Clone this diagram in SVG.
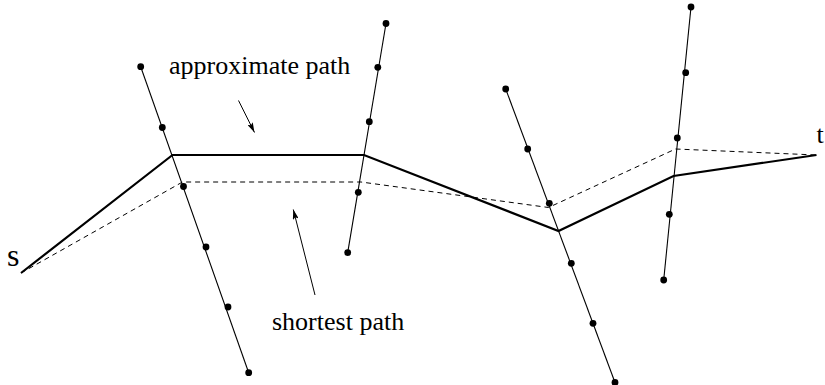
<svg xmlns="http://www.w3.org/2000/svg" width="825" height="385" viewBox="0 0 825 385">
<style>
.seg{stroke:#000;stroke-width:1.1;fill:none}
.dot{fill:#000}
.approx{stroke:#000;stroke-width:2.2;fill:none;stroke-linejoin:miter}
.short{stroke:#000;stroke-width:1;fill:none;stroke-dasharray:5 4}
.lbl{font-family:"Liberation Serif","Times New Roman",serif;font-size:26px;fill:#000}
.big{font-size:32px}
.ptr{stroke:#000;stroke-width:1;fill:none}
</style>
<defs>
<marker id="ah" viewBox="0 0 10 6" refX="10" refY="3" markerWidth="10" markerHeight="6" markerUnits="userSpaceOnUse" orient="auto">
<path d="M0,0 L10,3 L0,6 L2,3 Z" fill="#000"/>
</marker>
</defs>
<rect width="825" height="385" fill="#fff"/>
<g id="edge1">
<line class="seg" x1="140.7" y1="66.7" x2="248.7" y2="372.7"/>
<circle class="dot" cx="140.7" cy="66.7" r="3.4"/>
<circle class="dot" cx="162.3" cy="127.5" r="3.4"/>
<circle class="dot" cx="183.5" cy="186.5" r="3.4"/>
<circle class="dot" cx="206" cy="247" r="3.4"/>
<circle class="dot" cx="228" cy="307" r="3.4"/>
<circle class="dot" cx="248.7" cy="372.7" r="3.4"/>
</g>
<g id="edge2">
<line class="seg" x1="386" y1="23.5" x2="347.7" y2="252.7"/>
<circle class="dot" cx="386" cy="23.5" r="3.4"/>
<circle class="dot" cx="377.8" cy="67.3" r="3.4"/>
<circle class="dot" cx="369.3" cy="121.7" r="3.4"/>
<circle class="dot" cx="358.3" cy="192.3" r="3.4"/>
<circle class="dot" cx="347.7" cy="252.7" r="3.4"/>
</g>
<g id="edge3">
<line class="seg" x1="505.7" y1="89" x2="615" y2="382.5"/>
<circle class="dot" cx="505.7" cy="89" r="3.4"/>
<circle class="dot" cx="527.7" cy="149" r="3.4"/>
<circle class="dot" cx="549.3" cy="203.3" r="3.4"/>
<circle class="dot" cx="571.3" cy="263.3" r="3.4"/>
<circle class="dot" cx="593" cy="323.3" r="3.4"/>
<circle class="dot" cx="615" cy="382.5" r="3.4"/>
</g>
<g id="edge4">
<line class="seg" x1="691" y1="7" x2="663.7" y2="280"/>
<circle class="dot" cx="691" cy="7" r="3.4"/>
<circle class="dot" cx="685.7" cy="72.7" r="3.4"/>
<circle class="dot" cx="677.3" cy="138" r="3.4"/>
<circle class="dot" cx="669.3" cy="214.3" r="3.4"/>
<circle class="dot" cx="663.7" cy="280" r="3.4"/>
</g>
<g id="connectors">
<polyline class="approx" points="21,273 172.5,155 364,155 558.5,231 673.5,176 816.5,155"/>
<polyline class="short" points="21,273 182.5,182 361,182 548.5,207.5 675.5,149 816.5,155"/>
<line class="ptr" x1="238.5" y1="100.5" x2="254.5" y2="132.5" marker-end="url(#ah)"/>
<line class="ptr" x1="315" y1="295" x2="293.3" y2="209.5" marker-end="url(#ah)"/>
</g>
<g id="labels">
<text class="lbl" x="169" y="73.5">approximate path</text>
<text class="lbl" x="272" y="329.5">shortest path</text>
<text class="lbl big" x="7" y="265.5">s</text>
<text class="lbl" x="816.5" y="143">t</text>
</g>
</svg>
